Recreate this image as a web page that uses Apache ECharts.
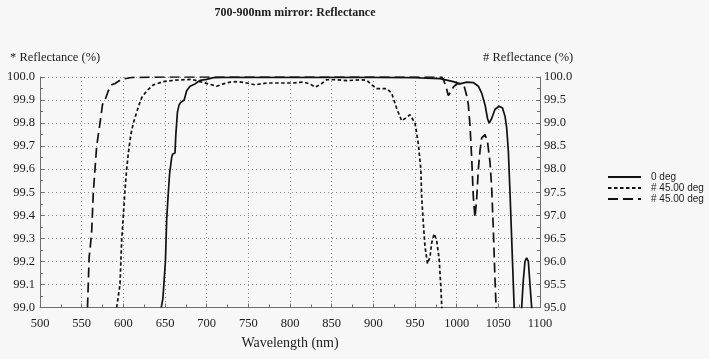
<!DOCTYPE html>
<html>
<head>
<meta charset="utf-8">
<script src="https://cdn.jsdelivr.net/npm/echarts@6/dist/echarts.min.js"></script>
<style>html,body{margin:0;padding:0;background:#f7f7f7;}#c{width:709px;height:359px;}</style>
</head>
<body>
<div id="c"></div>
<script>
// ---- data ----
const titleText = '700-900nm mirror: Reflectance';
const legendLabels = ['0 deg', '# 45.00 deg', '# 45.00 deg'];

// 0 deg (left axis, * Reflectance %)
const solidNm = [645.5,647.5,649.5,650.5,652,654,655.5,658,659,662,663,665,667,669,673,676,680,686,692,700,708,720,800,900,950,956,980,996,1004,1012,1020,1026,1030,1034,1037,1039,1042,1046,1051,1055,1058,1060,1062,1064,1066,1068,1069,1070,1077,1078,1080,1082,1084,1086,1088,1090,1091];
const solidVal = [99.0,99.04,99.04,99.2,99.38,99.5,99.58,99.65,99.665,99.67,99.75,99.85,99.88,99.89,99.9,99.94,99.96,99.97,99.985,99.99,99.997,99.998,99.998,99.998,99.997,99.996,99.993,99.98,99.97,99.978,99.976,99.96,99.93,99.88,99.82,99.80,99.82,99.86,99.873,99.865,99.83,99.78,99.68,99.5,99.3,99.1,99.0,98.9,98.9,99.0,99.12,99.2,99.215,99.2,99.1,99.0,98.9];

// # 45.00 deg, dotted (right axis, # Reflectance %)
const dottedNm = [592,594,596,598,600,602,604,606,609,612,618,622,626,630,636,648,662,682,692,702,712,720,728,738,748,758,772,788,804,816,824,830,836,844,856,868,884,892,898,904,916,922,928,934,938,944,950,954,957,958,960,962,965,968,970,973,976,979,981,982,983];
const dottedVal = [95.0,95.25,95.5,96.45,97.0,97.55,98.0,98.35,98.75,99.0,99.35,99.55,99.65,99.73,99.83,99.9,99.93,99.95,99.9,99.85,99.8,99.85,99.89,99.9,99.87,99.83,99.87,99.87,99.87,99.89,99.85,99.78,99.83,99.94,99.94,99.92,99.94,99.93,99.83,99.75,99.75,99.65,99.32,99.05,99.1,99.18,99.0,98.55,98.0,97.4,96.83,96.32,95.95,96.1,96.4,96.6,96.45,96.05,95.45,95.05,94.75];

// # 45.00 deg, dashed (right axis, # Reflectance %)
const dashedNm = [557,559,560,562,564,566,568,572,575,578,582,586,590,598,610,650,700,750,800,850,900,950,982,984,987,990,993,996,1000,1005,1009,1012,1014,1016,1018,1020,1022,1024,1026,1028,1030,1034,1037,1040,1042,1044,1046,1047,1048];
const dashedVal = [95.0,96.1,96.25,96.65,97.5,98.0,98.5,99.0,99.4,99.5,99.7,99.83,99.86,99.95,99.99,100,100,100,100,100,100,100,100,99.95,99.8,99.6,99.68,99.78,99.85,99.86,99.8,99.6,99.4,98.95,98.25,97.4,96.95,97.35,98.0,98.4,98.68,98.75,98.6,98.15,97.6,96.7,95.6,95.15,94.75];

const xTicks = {min: 500, max: 1100, interval: 50};
const yLeft = {min: 99.0, max: 100.0, interval: 0.1};
const yRight = {min: 95.0, max: 100.0, interval: 0.5};

function pairs(a, b) { return a.map((v, i) => [v, b[i]]); }

const serif = 'Liberation Serif';
const ink = '#1c1c1c';
const gridCol = '#8a8a8a';
const axisCol = '#6e6e6e';

const chart = echarts.init(document.getElementById('c'), null, {renderer: 'canvas'});
chart.setOption({
  backgroundColor: '#f7f7f7',
  animation: false,
  title: [
    {text: titleText, left: 290, top: 2, textAlign: 'center',
     textStyle: {fontFamily: serif, fontSize: 12, fontWeight: 'bold', color: ink}},
    {text: '* Reflectance (%)', left: 5, top: 46,
     textStyle: {fontFamily: serif, fontSize: 12.5, fontWeight: 'normal', color: ink}},
    {text: '# Reflectance (%)', left: 478, top: 46,
     textStyle: {fontFamily: serif, fontSize: 12.5, fontWeight: 'normal', color: ink}}
  ],
  legend: {
    orient: 'vertical', left: 602, top: 167,
    itemWidth: 33, itemHeight: 10, itemGap: 1,
    data: ['s0', 's1', 's2'],
    itemStyle: {opacity: 0},
    formatter: function (n) { return legendLabels[['s0','s1','s2'].indexOf(n)]; },
    textStyle: {fontFamily: 'Liberation Sans', fontSize: 10, color: ink, padding: [0, 0, 0, 5]}
  },
  grid: {left: 40, right: 169, top: 77, bottom: 51.5, containLabel: false},
  xAxis: {
    type: 'value', min: xTicks.min, max: xTicks.max, interval: xTicks.interval,
    name: 'Wavelength (nm)', nameLocation: 'middle', nameGap: 29,
    nameTextStyle: {fontFamily: serif, fontSize: 14, color: ink},
    axisLine: {show: true, lineStyle: {color: axisCol, width: 1}},
    axisTick: {show: true, inside: true, length: 4, lineStyle: {color: axisCol}},
    minorTick: {show: true, splitNumber: 2, length: 3, lineStyle: {color: axisCol}},
    axisLabel: {fontFamily: serif, fontSize: 12.5, color: ink, margin: 10,
                formatter: v => String(v)},
    splitLine: {show: true, lineStyle: {color: gridCol, type: [1, 3], width: 1}}
  },
  yAxis: [
    {
      type: 'value', position: 'left', min: yLeft.min, max: yLeft.max, interval: yLeft.interval,
      axisLine: {show: true, lineStyle: {color: axisCol, width: 1}},
      axisTick: {show: true, inside: true, length: 4, lineStyle: {color: axisCol}},
      minorTick: {show: true, splitNumber: 2, length: 3, lineStyle: {color: axisCol}},
      axisLabel: {fontFamily: serif, fontSize: 12.5, color: ink, margin: 5,
                  formatter: v => v.toFixed(1)},
      splitLine: {show: true, lineStyle: {color: gridCol, type: [1, 3], width: 1}}
    },
    {
      type: 'value', position: 'right', min: yRight.min, max: yRight.max, interval: yRight.interval,
      axisLine: {show: true, lineStyle: {color: axisCol, width: 1}},
      axisTick: {show: true, inside: true, length: 4, lineStyle: {color: axisCol}},
      minorTick: {show: true, splitNumber: 2, length: 3, lineStyle: {color: axisCol}},
      axisLabel: {fontFamily: serif, fontSize: 12.5, color: ink, margin: 4,
                  formatter: v => v.toFixed(1)},
      splitLine: {show: false}
    }
  ],
  series: [
    {name: 's0', type: 'line', yAxisIndex: 0, data: pairs(solidNm, solidVal),
     symbol: 'none', showSymbol: false, clip: true, color: '#111',
     lineStyle: {color: '#111', width: 1.7, type: 'solid'}},
    {name: 's1', type: 'line', yAxisIndex: 1, data: pairs(dottedNm, dottedVal),
     symbol: 'none', showSymbol: false, clip: true, color: '#111',
     lineStyle: {color: '#111', width: 1.7, type: [3.5, 2.5]}},
    {name: 's2', type: 'line', yAxisIndex: 1, data: pairs(dashedNm, dashedVal),
     symbol: 'none', showSymbol: false, clip: true, color: '#111',
     lineStyle: {color: '#111', width: 1.7, type: [10, 5]}}
  ]
});
</script>
</body>
</html>
